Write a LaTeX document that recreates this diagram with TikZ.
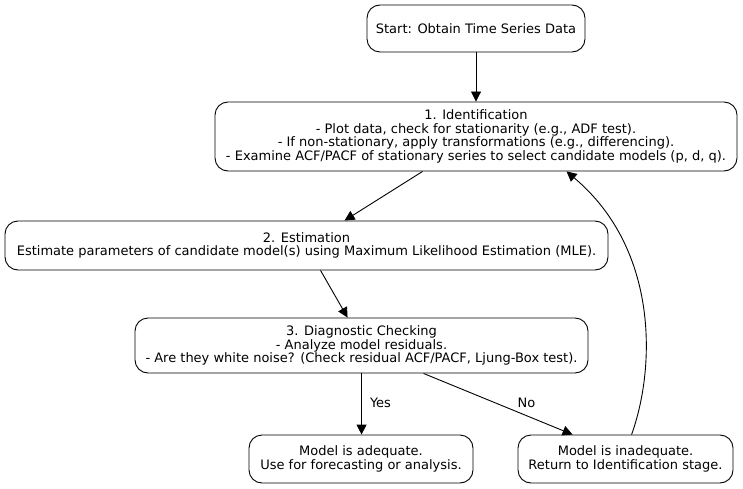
\documentclass[tikz,border=0pt]{standalone}
\usepackage{fontspec}
\setmainfont{DejaVu Sans}
\usetikzlibrary{arrows.meta}
\begin{document}
\begin{tikzpicture}[x=1pt,y=-1pt,
  box/.style={draw,line width=0.9pt,rounded corners=13pt,inner sep=0pt,align=center,
    font=\fontsize{13}{13.7}\selectfont},
  conn/.style={line width=0.9pt,-{Triangle[length=10pt,width=10pt]}},
  lbl/.style={font=\fontsize{13}{13.7}\selectfont,inner sep=0pt}]
\useasboundingbox (0,0) rectangle (743,489);
\node[box,minimum width=218pt,minimum height=47pt] (start) at (476,28.5) {Start: Obtain Time Series Data};
\node[box,minimum width=522pt,minimum height=69pt] (ident) at (476,136.5) {1. Identification\\- Plot data, check for stationarity (e.g., ADF test).\\- If non-stationary, apply transformations (e.g., differencing).\\- Examine ACF/PACF of stationary series to select candidate models (p, d, q).};
\node[box,minimum width=603pt,minimum height=49pt] (est) at (306.5,245.5) {2. Estimation\\Estimate parameters of candidate model(s) using Maximum Likelihood Estimation (MLE).};
\node[box,minimum width=453pt,minimum height=55pt] (diag) at (361.5,345.5) {3. Diagnostic Checking\\- Analyze model residuals.\\- Are they white noise? (Check residual ACF/PACF, Ljung-Box test).};
\node[box,minimum width=224pt,minimum height=48pt] (ade) at (361,459) {Model is adequate.\\Use for forecasting or analysis.};
\node[box,minimum width=215pt,minimum height=48pt] (inade) at (625.5,459) {Model is inadequate.\\Return to Identification stage.};
\draw[conn] (start.south) -- (ident.north);
\draw[conn] ([xshift=208pt]ident.south west) -- ([xshift=340pt]est.north west);
\draw[conn] ([xshift=316pt]est.south west) -- ([xshift=213pt]diag.north west);
\draw[conn] ([xshift=227pt]diag.south west) -- node[lbl,pos=0.5,anchor=west,xshift=8pt,yshift=1pt] {Yes} ([xshift=113pt]ade.north west);
\draw[conn] ([xshift=289pt]diag.south west) -- node[lbl,pos=0.5,xshift=28.5pt,yshift=1pt] {No} ([xshift=55pt]inade.north west);
\draw[conn] ([xshift=114pt]inade.north west) .. controls (655,370) and (660,250) .. ([xshift=352pt]ident.south west);
\end{tikzpicture}
\end{document}
